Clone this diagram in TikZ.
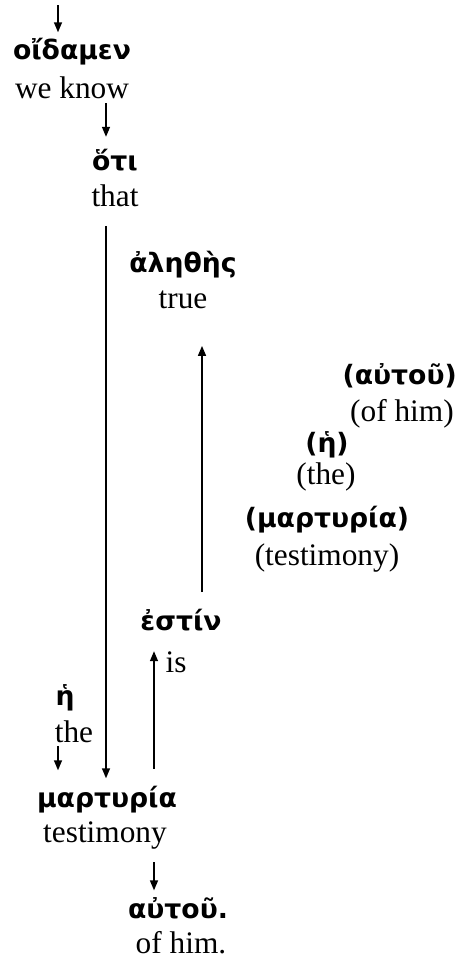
\documentclass[tikz,border=0pt]{standalone}
\usepackage{fontspec}
\setmainfont{Liberation Serif}
\newfontfamily\grk{DejaVu Sans Bold}
\usetikzlibrary{arrows.meta}

\tikzset{
	gr/.style={font=\grk\fontsize{20}{23}\selectfont, inner sep=0pt},
	en/.style={font=\fontsize{23.5}{27}\selectfont, inner sep=0pt},
	arr/.style={-{Triangle[length=7.5pt, width=6pt]}, line width=1.1pt}
}

\begin{document}
\begin{tikzpicture}[x=0.75pt, y=-0.75pt]
	\useasboundingbox (0,0) rectangle (463,960);
	% Words, top to bottom:
	\node[gr] (oidamen) at (72,52) {οἴδαμεν};
	\node[en] (weknow) at (72,88) {we know};
	\node[gr] (hoti) at (115,160) {ὅτι};
	\node[en] (that) at (115,196) {that};
	\node[gr] (alethes) at (183,265) {ἀληθὴς};
	\node[en] (true) at (183,300) {true};
	\node[gr, anchor=east] (autouP) at (457,376) {(αὐτοῦ)};
	\node[en, anchor=east] (ofhimP) at (454,414) {(of him)};
	\node[gr] (heP) at (327,445) {(ἡ)};
	\node[en] (theP) at (326,477) {(the)};
	\node[gr] (martyriaP) at (327,520) {(μαρτυρία)};
	\node[en] (testimonyP) at (327,558) {(testimony)};
	\node[gr] (estin) at (181,620) {ἐστίν};
	\node[en] (is) at (176,662) {is};
	\node[gr] (he) at (65,698) {ἡ};
	\node[en] (the) at (74,732) {the};
	\node[gr] (martyria) at (107,800) {μαρτυρία};
	\node[en] (testimony) at (105,835) {testimony};
	\node[gr] (autou) at (178,908) {αὐτοῦ.};
	\node[en] (ofhim) at (181,943) {of him.};
	% Arrows:
	\coordinate (in) at (58,5);
	\coordinate (xhoti) at (106,0);
	\coordinate (xup) at (202,0);
	\coordinate (xis) at (154,0);
	\draw[arr, shorten >=4.5pt] (in) -- (in |- oidamen.north);
	\draw[arr, shorten <=3pt, shorten >=9pt] (weknow.south -| xhoti) -- (xhoti |- hoti.north);
	\draw[arr, shorten <=14pt, shorten >=6pt] (that.south -| xhoti) -- (xhoti |- martyria.north);
	\draw[arr, shorten <=12.5pt, shorten >=27.5pt] (estin.north -| xup) -- (xup |- true.south);
	\draw[arr, shorten <=13pt] (martyria.north -| xis) -- (xis |- is.north);
	\draw[arr, shorten <=2pt, shorten >=12pt] (the.south -| in) -- (in |- martyria.north);
	\draw[arr, shorten <=10pt, shorten >=5pt] (testimony.south -| xis) -- (xis |- autou.north);
\end{tikzpicture}
\end{document}
